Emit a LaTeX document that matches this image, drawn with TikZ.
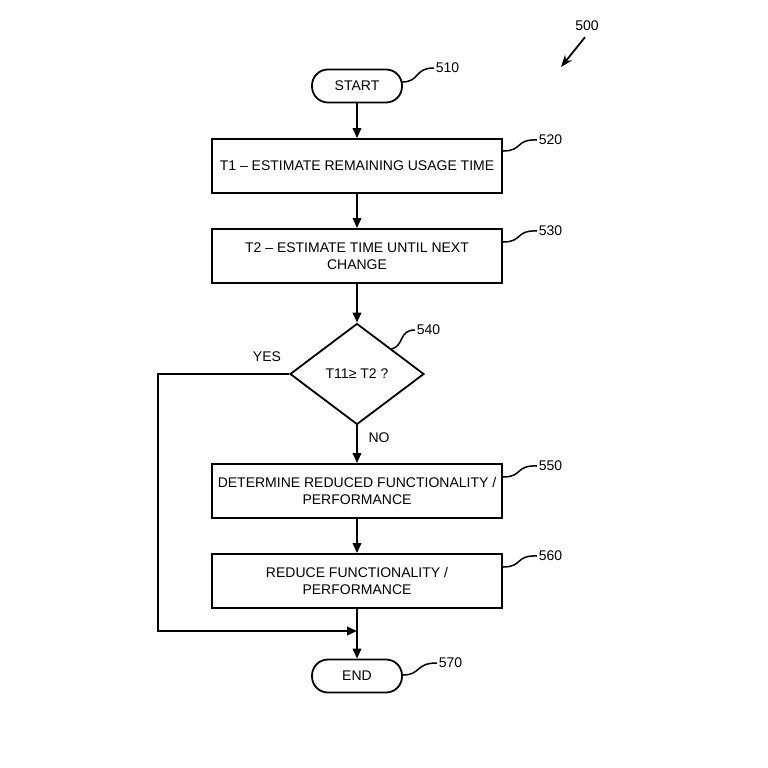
\documentclass[tikz,border=0pt]{standalone}
\usepackage{fontspec}
\setmainfont{Liberation Sans}
\usetikzlibrary{shapes.geometric,arrows.meta}
\begin{document}
\begin{tikzpicture}[x=1pt,y=-1pt,
  font=\fontsize{14}{17}\selectfont, line width=1.8pt,
  term/.style={draw, rectangle, rounded corners=16pt, minimum width=90pt, minimum height=33pt, inner sep=0pt},
  stepbox/.style={draw, rectangle, minimum width=290pt, minimum height=54pt, align=center, inner sep=2pt},
  decision/.style={draw, diamond, minimum width=134pt, minimum height=101pt, inner sep=0pt},
  arr/.style={-{Triangle[length=10pt,width=8.5pt]}},
  lbl/.style={anchor=west, inner sep=1pt},
  squig/.style={line width=1.5pt}]
\useasboundingbox (0,0) rectangle (768,768);
\fill[white] (0,0) rectangle (768,768);

\node[term] (start) at (357,86) {START};
\node[stepbox] (s520) at (357,166) {T1 -- ESTIMATE REMAINING USAGE TIME};
\node[stepbox] (s530) at (357,256) {T2 -- ESTIMATE TIME UNTIL NEXT\\CHANGE};
\node[decision] (d540) at (357,374) {T11≥ T2 ?};
\node[stepbox] (s550) at (357,491) {DETERMINE REDUCED FUNCTIONALITY /\\PERFORMANCE};
\node[stepbox] (s560) at (357,581) {REDUCE FUNCTIONALITY /\\PERFORMANCE};
\node[term] (end) at (357,676) {END};

\coordinate (join) at (357,631);
\coordinate (c1) at (158,374);
\coordinate (c2) at (158,631);

\draw[arr] (start) -- (s520);
\draw[arr] (s520) -- (s530);
\draw[arr] (s530) -- (d540);
\draw[arr] (d540) -- (s550);
\draw[arr] (s550) -- (s560);
\draw[arr] (s560) -- (end);
\draw[arr] (d540.west) -- (c1) -- (c2) -- (join);

\node (yes) at (267,357) {YES};
\node (no) at (379,438) {NO};

% reference numerals
\node[lbl] (n510) at (434,68) {510};
\coordinate (a510) at (402,82);
\draw[squig] (a510) .. controls (420,82) and (414,68) .. (n510.west);

\node[lbl] (n520) at (537,140) {520};
\coordinate (a520) at (503,151);
\draw[squig] (a520) .. controls (523,151) and (515,139) .. (n520.west);

\node[lbl] (n530) at (537,231) {530};
\coordinate (a530) at (503,242);
\draw[squig] (a530) .. controls (523,242) and (515,230) .. (n530.west);

\node[lbl] (n540) at (415,330) {540};
\coordinate (a540) at (391,349);
\draw[squig] (a540) .. controls (405,346) and (398,330) .. (n540.west);

\node[lbl] (n550) at (537,466) {550};
\coordinate (a550) at (503,477);
\draw[squig] (a550) .. controls (523,477) and (515,465) .. (n550.west);

\node[lbl] (n560) at (537,556) {560};
\coordinate (a560) at (503,567);
\draw[squig] (a560) .. controls (523,567) and (515,555) .. (n560.west);

\node[lbl] (n570) at (437,663) {570};
\coordinate (a570) at (403,675);
\draw[squig] (a570) .. controls (421,675) and (415,663) .. (n570.west);

\node (n500) at (587,26) {500};
\coordinate (t500) at (561,67);
\draw[-{Stealth[length=12pt,width=9pt]}] (n500.south) ++(-2,2) -- (t500);
\end{tikzpicture}
\end{document}
